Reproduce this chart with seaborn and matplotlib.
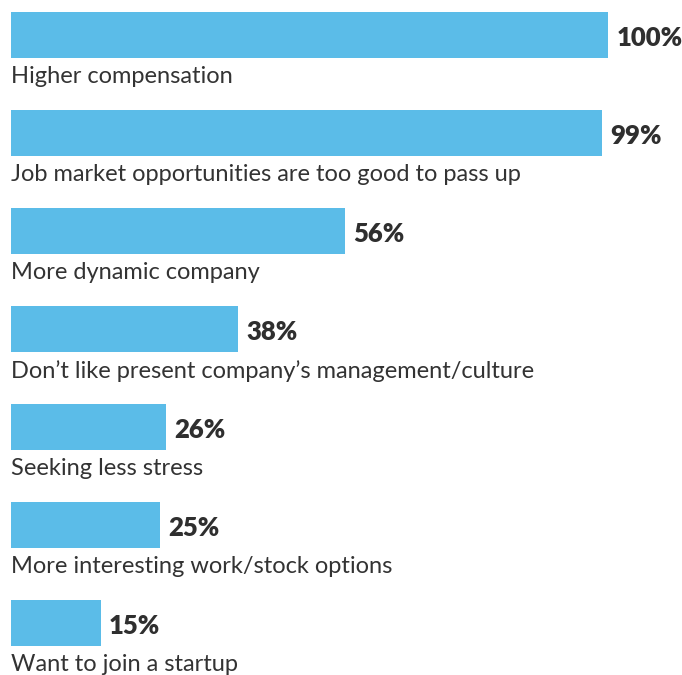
import matplotlib
matplotlib.use("Agg")
import matplotlib.pyplot as plt
import seaborn as sns
import pandas as pd

# Reasons for leaving, share of respondents (%)
reasons = [
    "Higher compensation",
    "Job market opportunities are too good to pass up",
    "More dynamic company",
    "Don\u2019t like present company\u2019s management/culture",
    "Seeking less stress",
    "More interesting work/stock options",
    "Want to join a startup",
]
shares = [100, 99, 56, 38, 26, 25, 15]

df = pd.DataFrame({"reason": reasons, "share": shares})

sns.set_theme(style="white")
plt.rcParams["font.family"] = ["Lato", "DejaVu Sans"]

W, H = 682, 675
fig = plt.figure(figsize=(W / 100, H / 100), dpi=100)
left_px, right_px = 11, 608
ax = fig.add_axes([left_px / W, 0, (right_px - left_px) / W, 1])

bar_color = "#5BBCE8"
text_color = "#2f2f2f"
bar_h = 0.47

sns.barplot(data=df, x="share", y="reason", orient="h", color=bar_color,
            width=bar_h, saturation=1, linewidth=0, ax=ax)

pitch = 98.0
first_center = 35.0
ax.set_xlim(0, 100)
ax.set_ylim((H - first_center) / pitch, -first_center / pitch)
ax.set_axis_off()

for i, (reason, share) in enumerate(zip(reasons, shares)):
    ax.text(0, i + bar_h / 2 + 8 / pitch, reason, ha="left", va="top",
            fontsize=17, color="#333333", clip_on=False)
    ax.annotate(f"{share}%", xy=(share, i + 3 / pitch), xytext=(6, 0),
                textcoords="offset points", ha="left", va="center",
                fontsize=18.5, fontweight="heavy", color=text_color,
                annotation_clip=False)

fig.savefig("out.png", dpi=100)
